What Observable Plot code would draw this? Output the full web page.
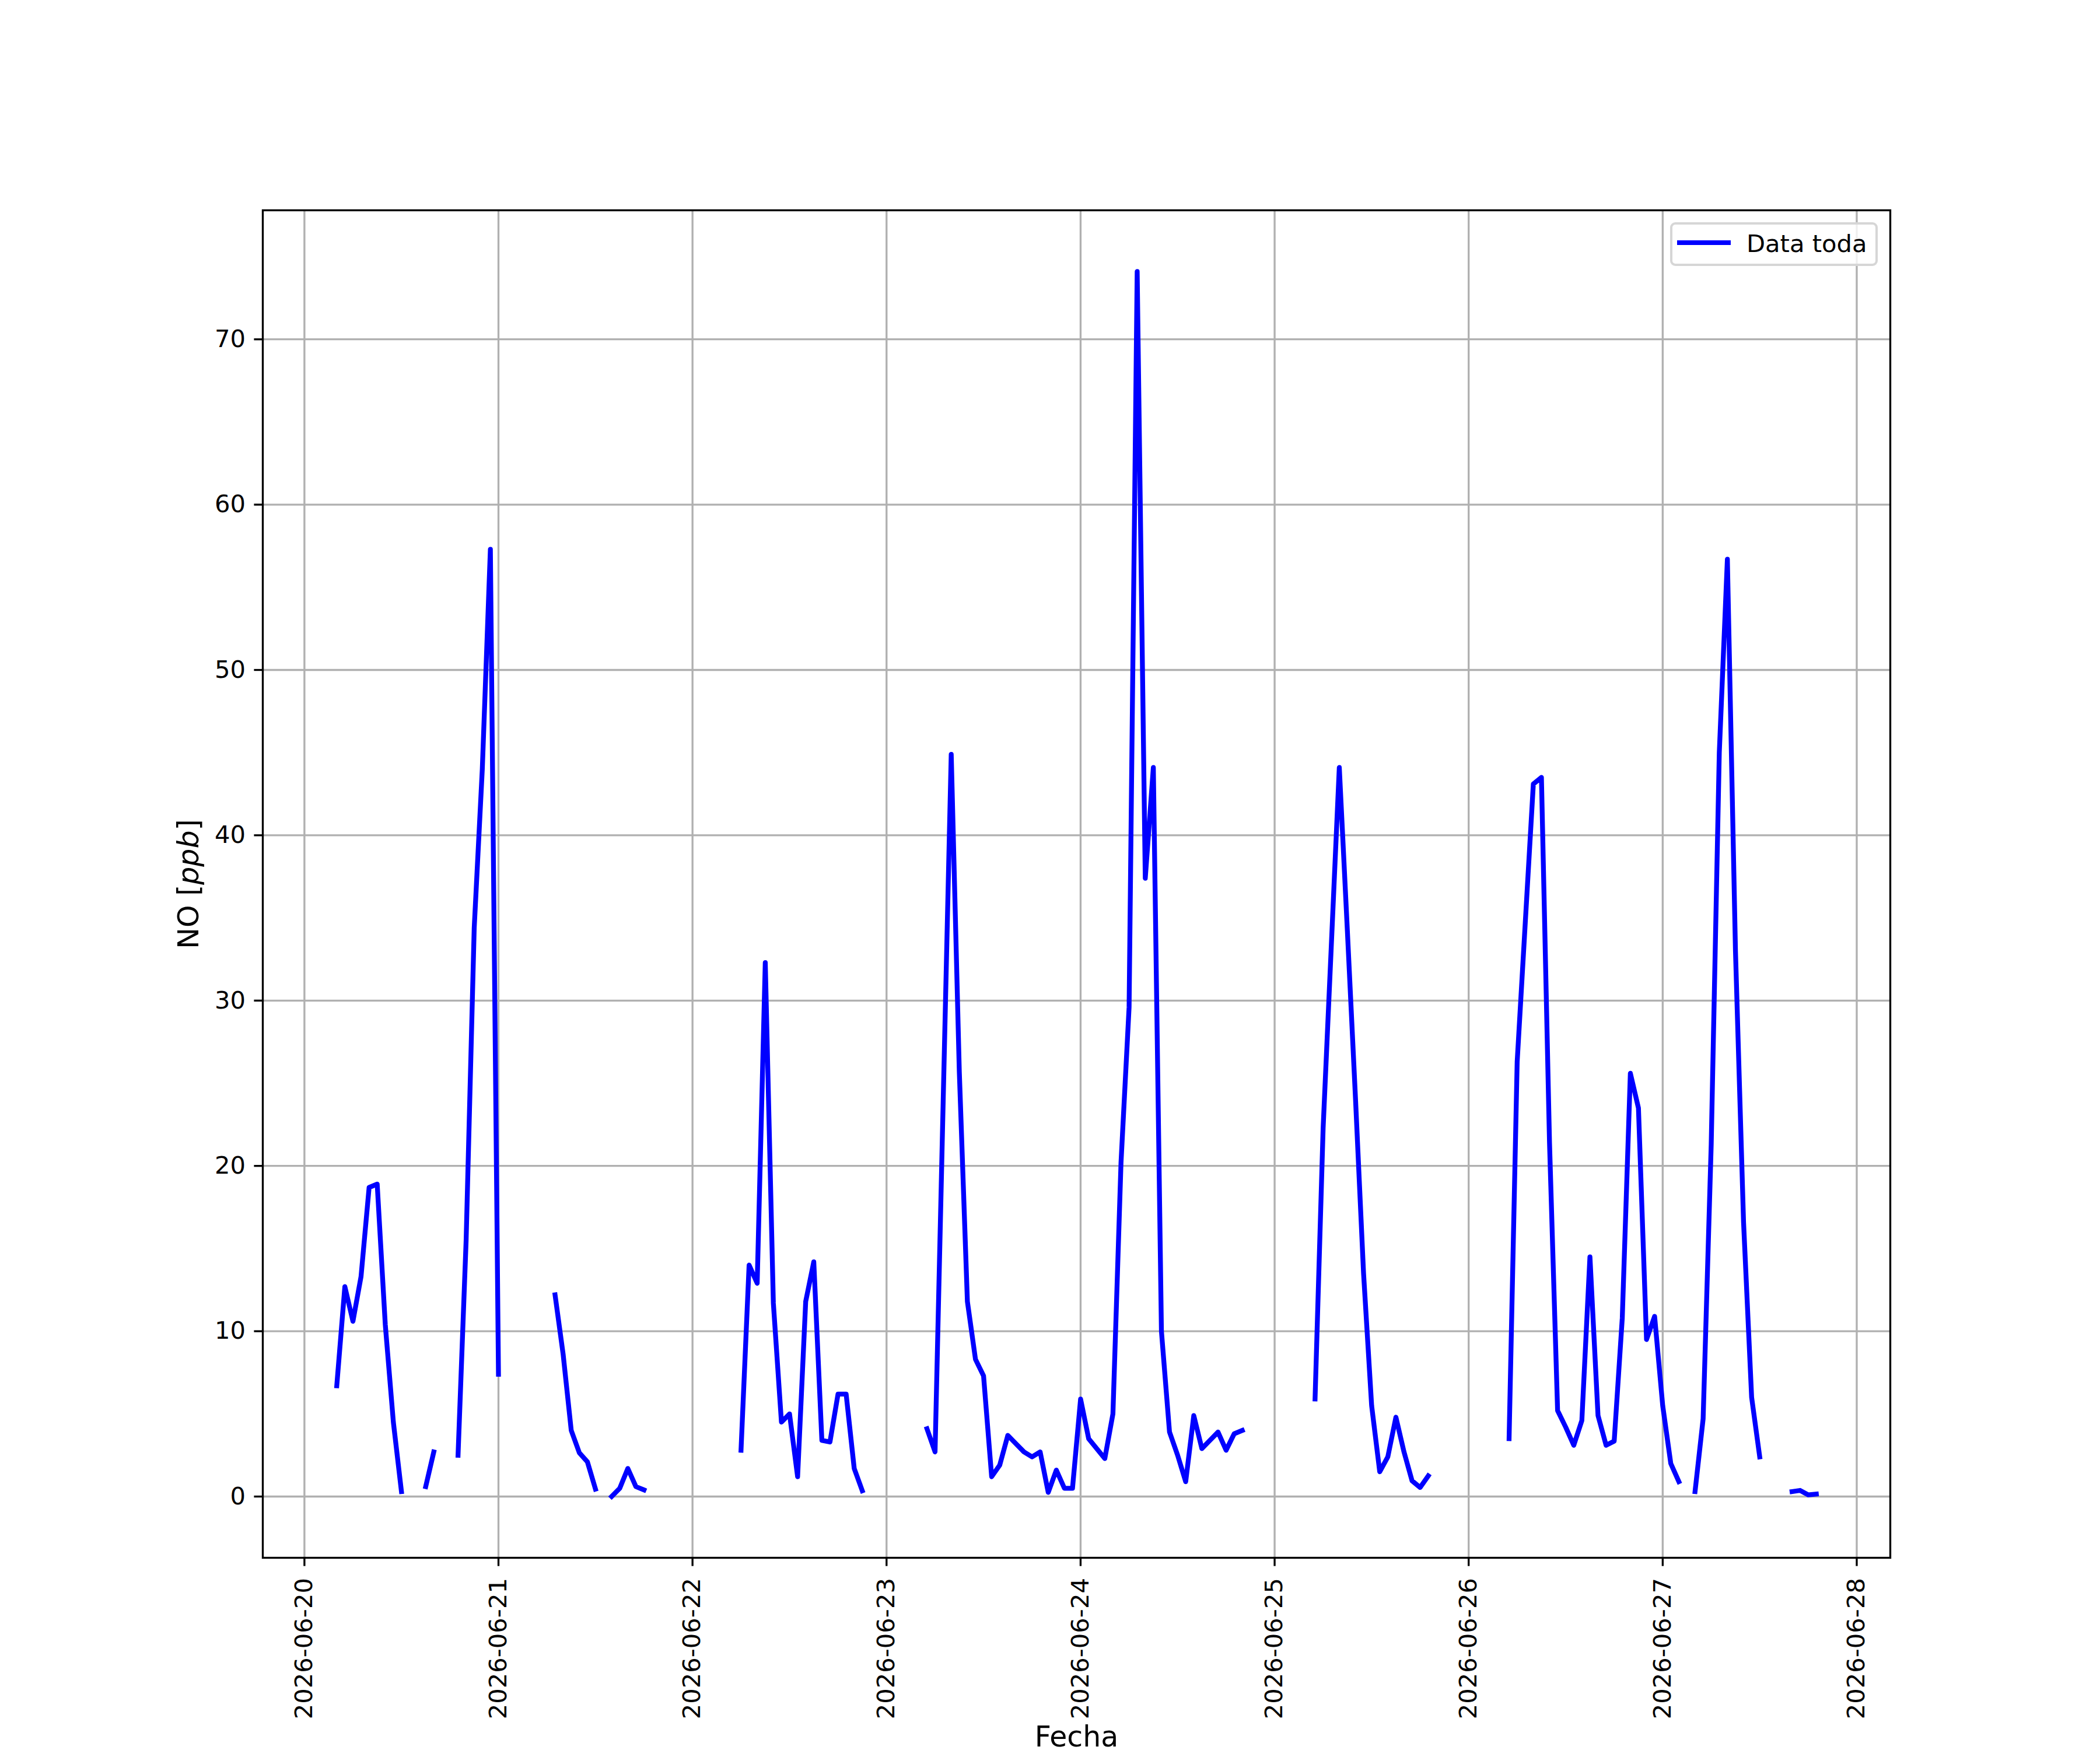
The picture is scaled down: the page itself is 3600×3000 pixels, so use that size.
<!DOCTYPE html>
<html>
<head>
<meta charset="utf-8">
<script src="https://cdn.jsdelivr.net/npm/d3@7"></script>
<script src="https://cdn.jsdelivr.net/npm/@observablehq/plot@0.6"></script>
<style>
html, body { margin: 0; padding: 0; background: #ffffff; }
#wrap { position: relative; width: 3600px; height: 3000px; font-family: "DejaVu Sans", sans-serif; }
#wrap svg { position: absolute; left: 0; top: 0; }
#legend { position: absolute; left: 2863px; top: 381px; width: 348px; height: 67px;
  border: 4px solid #d6d6d6; border-radius: 9px; background: rgba(255,255,255,0.8); }
#legend .sw { position: absolute; left: 8px; top: 26.5px; width: 92px; height: 8.3px; background: #0000ff; }
#legend .lb { position: absolute; left: 127px; top: 11.7px; font-size: 41.67px; line-height: 1; color: #000; white-space: nowrap; }
</style>
</head>
<body>
<div id="wrap"></div>
<script>
// ---- data (hourly NO values, ppb; null = missing) ----
const dayStarts = ["2026-06-20", "2026-06-21", "2026-06-22", "2026-06-23",
                   "2026-06-24", "2026-06-25", "2026-06-26", "2026-06-27"];

const no_0620 = [null, null, null, null, 6.7, 12.7, 10.6, 13.3, 18.7, 18.9, 10.4, 4.5,
                 0.3, null, null, 0.6, 2.7, null, null, 2.5, 15.5, 34.4, 44.0, 57.3];
const no_0621 = [7.4, null, null, null, null, null, null, 12.2, 8.6, 4.0, 2.65, 2.1,
                 0.45, null, 0.0, 0.5, 1.7, 0.6, 0.4, null, null, null, null, null];
const no_0622 = [null, null, null, null, null, null, 2.8, 14.0, 12.9, 32.3, 11.7, 4.5,
                 5.0, 1.2, 11.8, 14.2, 3.4, 3.3, 6.2, 6.2, 1.7, 0.35, null, null];
const no_0623 = [null, null, null, null, null, 4.1, 2.7, 23.8, 44.9, 25.7, 11.8, 8.3,
                 7.3, 1.2, 1.9, 3.7, 3.2, 2.7, 2.4, 2.7, 0.25, 1.6, 0.5, 0.5];
const no_0624 = [5.9, 3.5, 2.9, 2.3, 5.0, 20.2, 29.6, 74.1, 37.4, 44.1, 10.0, 3.9,
                 2.5, 0.9, 4.9, 2.9, 3.4, 3.9, 2.8, 3.8, 4.0, null, null, null];
const no_0625 = [null, null, null, null, null, 5.9, 22.3, 33.2, 44.1, 34.2, 24.1, 13.5,
                 5.5, 1.5, 2.4, 4.8, 2.7, 0.95, 0.55, 1.25, null, null, null, null];
const no_0626 = [null, null, null, null, null, 3.5, 26.3, 34.7, 43.1, 43.5, 21.4, 5.2,
                 4.2, 3.1, 4.6, 14.5, 4.9, 3.1, 3.35, 10.8, 25.6, 23.5, 9.5, 10.9];
const no_0627 = [5.5, 2.0, 0.9, null, 0.3, 4.7, 21.3, 45.0, 56.7, 33.0, 16.6, 6.0,
                 2.4, null, null, null, 0.3, 0.37, 0.1, 0.15];

const xTickLabels = ["2026-06-20", "2026-06-21", "2026-06-22", "2026-06-23", "2026-06-24",
                     "2026-06-25", "2026-06-26", "2026-06-27", "2026-06-28"];
const yTicks = [0, 10, 20, 30, 40, 50, 60, 70];
const seriesLabel = "Data toda";
const xLabel = "Fecha";
const yLabelParts = ["NO [", "ppb", "]"];

// ---- build table ----
const days = [no_0620, no_0621, no_0622, no_0623, no_0624, no_0625, no_0626, no_0627];
const rows = [];
days.forEach((arr, i) => {
  const base = Date.parse(dayStarts[i] + "T00:00:00Z");
  arr.forEach((v, h) => rows.push({t: new Date(base + h * 3600e3), v: v}));
});
const valid = rows.filter(d => d.v != null);
const [t0, t1] = d3.extent(valid, d => d.t);
const [v0, v1] = d3.extent(valid, d => d.v);
const padT = (t1 - t0) * 0.05;
const padV = (v1 - v0) * 0.05;
const xTicks = xTickLabels.map(s => new Date(s + "T00:00:00Z"));

const grid = {stroke: "#b0b0b0", strokeOpacity: 1, strokeWidth: 3.33};

const svg = Plot.plot({
  width: 3600,
  height: 3000,
  marginLeft: 450,
  marginRight: 360,
  marginTop: 360,
  marginBottom: 330,
  style: {fontFamily: "DejaVu Sans", fontSize: "41.67px", background: "white", color: "black", overflow: "visible"},
  x: {type: "utc", domain: [new Date(+t0 - padT), new Date(+t1 + padT)]},
  y: {domain: [v0 - padV, v1 + padV]},
  marks: [
    Plot.gridX(xTicks, grid),
    Plot.gridY(yTicks, grid),
    Plot.line(rows, {x: "t", y: "v", stroke: "#0000ff", strokeWidth: 8.3,
                     strokeLinejoin: "round", strokeLinecap: "square"}),
    Plot.frame({stroke: "black", strokeWidth: 3.33}),
    Plot.axisX(xTicks, {tickFormat: (d, i) => xTickLabels[i], tickRotate: -90,
                        tickSize: 14.6, tickPadding: 20, strokeWidth: 3.33, fontSize: 41.67,
                        label: xLabel, labelAnchor: "center", labelOffset: 323, labelArrow: "none"}),
    Plot.axisY(yTicks, {tickSize: 14.6, tickPadding: 15, strokeWidth: 3.33, fontSize: 41.67,
                        label: yLabelParts.join(""), labelAnchor: "center", labelOffset: 145, labelArrow: "none"})
  ]
});

// axis label styling (larger font, italic ppb)
const s = d3.select(svg);
s.selectAll('g[aria-label="x-axis label"]').attr("font-size", 49);
const yg = s.selectAll('g[aria-label="y-axis label"]').attr("font-size", 49);
const yt = yg.select("text");
yt.text(null);
yt.append("tspan").text(yLabelParts[0]);
yt.append("tspan").attr("font-style", "italic").text(yLabelParts[1]);
yt.append("tspan").text(yLabelParts[2]);

const wrap = document.getElementById("wrap");
wrap.appendChild(svg);

// legend overlay
const lg = document.createElement("div");
lg.id = "legend";
const sw = document.createElement("div"); sw.className = "sw";
const lb = document.createElement("div"); lb.className = "lb"; lb.textContent = seriesLabel;
lg.appendChild(sw); lg.appendChild(lb);
wrap.appendChild(lg);
</script>
</body>
</html>
